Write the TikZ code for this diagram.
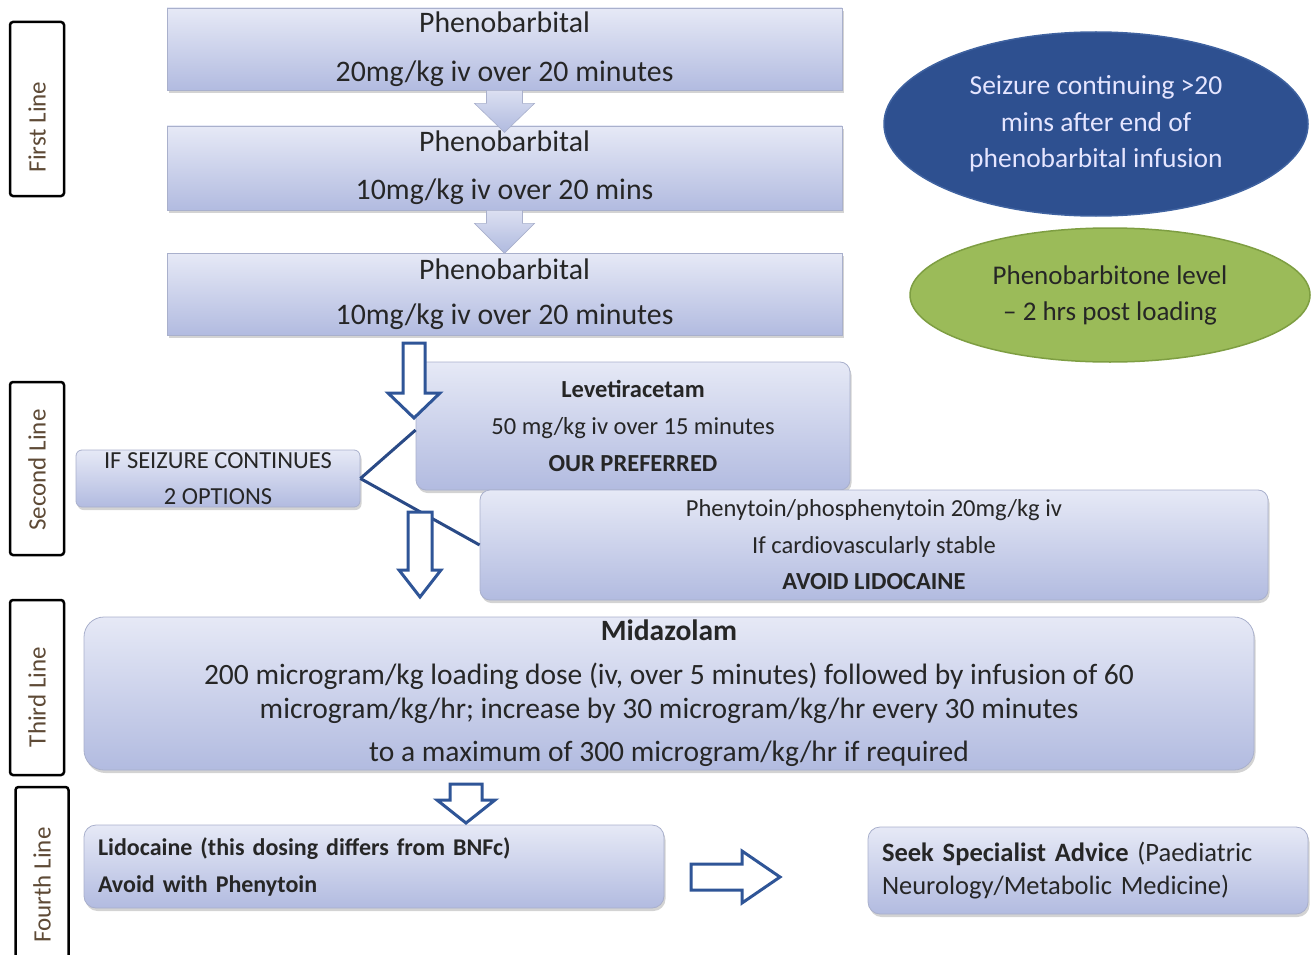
\documentclass[tikz,border=0pt]{standalone}
\usepackage{fontspec}
\setmainfont{Carlito}
\usetikzlibrary{shapes.geometric,shadows,calc}
\definecolor{txt}{HTML}{262626}
\definecolor{boxtop}{HTML}{E6E9F6}
\definecolor{boxbot}{HTML}{B2BBE0}
\definecolor{boxline}{HTML}{A9B0CC}
\definecolor{arrline}{HTML}{2F5597}
\definecolor{connline}{HTML}{2A4A86}
\definecolor{ellblue}{HTML}{2E5090}
\definecolor{ellblueline}{HTML}{3F62A0}
\definecolor{ellgreen}{HTML}{9BBB59}
\definecolor{ellgreenline}{HTML}{7E9E42}
\definecolor{sidetxt}{HTML}{5E4A36}
\definecolor{fillarr}{HTML}{B0BADF}
\tikzset{
  box/.style={draw=boxline, line width=0.8pt, top color=boxtop, bottom color=boxbot,
    drop shadow={shadow xshift=1.5pt, shadow yshift=-3pt, opacity=0.35},
    text=txt, align=center, inner sep=0pt},
  rbox/.style={box, rounded corners=10pt},
  sidebox/.style={draw=black, line width=2.5pt, fill=white, rounded corners=3pt, inner sep=0pt},
  sidetext/.style={rotate=90, text=sidetxt, font=\fontsize{25}{28}\selectfont, inner sep=0pt},
  oarrow/.style={draw=arrline, line width=3pt, fill=white, line join=miter},
  farrow/.style={draw=boxline, line width=0.6pt, top color=boxtop!80!fillarr, bottom color=fillarr},
  conn/.style={draw=connline, line width=3pt},
}
\begin{document}
\begin{tikzpicture}[x=1pt,y=-1pt]
\useasboundingbox (0,0) rectangle (1314,955);

% side labels
\node[sidebox, minimum width=54pt, minimum height=174pt] (s1) at (37,109) {};
\node[sidetext] (s1t) at (37,127) {First Line};
\node[sidebox, minimum width=54pt, minimum height=173pt] (s2) at (37,468.5) {};
\node[sidetext] (s2t) at (37,470) {Second Line};
\node[sidebox, minimum width=54pt, minimum height=175pt] (s3) at (37,687.5) {};
\node[sidetext] (s3t) at (37,697) {Third Line};
\node[sidebox, minimum width=53pt, minimum height=190pt] (s4) at (42,882) {};
\node[sidetext] (s4t) at (42,885) {Fourth Line};

% first line boxes
\node[box, minimum width=675pt, minimum height=82pt, font=\fontsize{29.8}{49}\selectfont] (pb1) at (504.5,49)
  {Phenobarbital\\20mg/kg iv over 20 minutes};
\node[box, minimum width=675pt, minimum height=84pt, font=\fontsize{29.8}{48}\selectfont] (pb2) at (504.5,168)
  {Phenobarbital\\10mg/kg iv over 20 mins};
\node[box, minimum width=675pt, minimum height=82pt, font=\fontsize{29.8}{45}\selectfont] (pb3) at (504.5,294)
  {Phenobarbital\\10mg/kg iv over 20 minutes};

% filled arrows between phenobarbital boxes
\coordinate (fa1) at (pb1.south);
\draw[farrow] ($(fa1)+(-18,0)$) -- ++(0,13) -- ++(-12,0) -- ($(fa1)+(0,42)$) -- ++(30,-29) -- ++(-12,0) -- ++(0,-13) -- cycle;
\coordinate (fa2) at (pb2.south);
\draw[farrow] ($(fa2)+(-18,0)$) -- ++(0,13) -- ++(-12,0) -- ($(fa2)+(0,43)$) -- ++(30,-30) -- ++(-12,0) -- ++(0,-13) -- cycle;

% ellipses
\node[ellipse, draw=ellblueline, line width=1.5pt, fill=ellblue, minimum width=424pt, minimum height=184pt,
  text=white!90!blue, align=center, font=\fontsize{27.5}{36.5}\selectfont, inner sep=0pt] (e1) at (1096,124)
  {Seizure continuing >20\\mins after end of\\phenobarbital infusion};
\node[ellipse, draw=ellgreenline, line width=1.5pt, fill=ellgreen, minimum width=400pt, minimum height=134pt,
  text=txt, align=center, font=\fontsize{27}{36}\selectfont, inner sep=0pt] (e2) at (1110,295)
  {Phenobarbitone level\\– 2 hrs post loading};

% second line
\node[rbox, minimum width=434pt, minimum height=128pt, font=\fontsize{24.5}{37}\selectfont] (lev) at (633,426)
  {\textbf{Levetiracetam}\\50 mg/kg iv over 15 minutes\\\textbf{OUR PREFERRED}};
\node[rbox, minimum width=788pt, minimum height=110pt, font=\fontsize{24.5}{36.5}\selectfont] (phen) at (874,545)
  {Phenytoin/phosphenytoin 20mg/kg iv\\If cardiovascularly stable\\\textbf{AVOID LIDOCAINE}};
\node[rbox, rounded corners=6pt, minimum width=284pt, minimum height=57pt, font=\fontsize{24.5}{36}\selectfont] (ifb) at (218,478.5)
  {IF SEIZURE CONTINUES\\2 OPTIONS};

\draw[conn] (ifb.east) -- ($(lev.west)+(0,4)$);
\draw[conn] (ifb.east) -- (phen.west);

% outline arrows second line
\coordinate (oa1) at (414,343);
\draw[oarrow] ($(oa1)+(-11,0)$) -- ++(0,50) -- ++(-15,0) -- ($(oa1)+(0,75)$) -- ++(26,-25) -- ++(-15,0) -- ++(0,-50) -- cycle;
\coordinate (oa2) at (420,512);
\draw[oarrow] ($(oa2)+(-12,0)$) -- ++(0,58) -- ++(-9,0) -- ($(oa2)+(0,85)$) -- ++(21,-27) -- ++(-9,0) -- ++(0,-58) -- cycle;

% third line
\node[rbox, rounded corners=20pt, minimum width=1170pt, minimum height=153pt, font=\fontsize{29.5}{34}\selectfont] (mid) at (669,693.5)
  {\textbf{Midazolam}\\[10pt]200 microgram/kg loading dose (iv, over 5 minutes) followed by infusion of 60\\microgram/kg/hr; increase by 30 microgram/kg/hr every 30 minutes\\[9pt]to a maximum of 300 microgram/kg/hr if required};

% fourth line
\node[rbox, rounded corners=12pt, minimum width=580pt, minimum height=83pt, text width=552pt, align=left,
  font=\fontsize{24}{37}\selectfont\bfseries] (lid) at (374,866.5)
  {Lidocaine (this dosing differs from BNFc)\\Avoid with Phenytoin};
\node[rbox, rounded corners=12pt, minimum width=440pt, minimum height=87pt, text width=412pt, align=left,
  font=\fontsize{26.5}{33}\selectfont] (seek) at (1088,870.5)
  {\textbf{Seek Specialist Advice} (Paediatric\\Neurology/Metabolic Medicine)};

\coordinate (oa3) at (466,784);
\draw[oarrow] ($(oa3)+(-16,0)$) -- ++(0,16) -- ++(-13,0) -- ($(oa3)+(0,39)$) -- ++(29,-23) -- ++(-13,0) -- ++(0,-16) -- cycle;
\coordinate (oa4) at (691,877);
\draw[oarrow] ($(oa4)+(0,-13)$) -- ++(51,0) -- ++(0,-13) -- ($(oa4)+(89,0)$) -- ++(-38,26) -- ++(0,-13) -- ++(-51,0) -- cycle;
\end{tikzpicture}
\end{document}
